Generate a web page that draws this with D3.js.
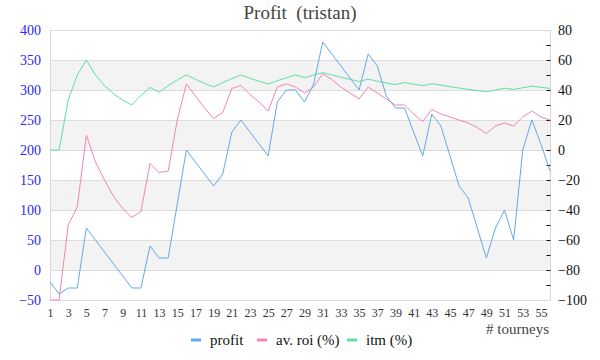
<!DOCTYPE html>
<html>
<head>
<meta charset="utf-8">
<script src="https://cdn.jsdelivr.net/npm/d3@7"></script>
<style>
  html, body { margin: 0; padding: 0; background: #fff; }
  svg { display: block; }
  svg text { font-family: "Liberation Serif", "DejaVu Serif", serif; }
</style>
</head>
<body>
<svg id="chart" width="600" height="360"></svg>
<script>
const tourneys = [1,2,3,4,5,6,7,8,9,10,11,12,13,14,15,16,17,18,19,20,21,22,23,24,25,26,27,28,29,30,31,32,33,34,35,36,37,38,39,40,41,42,43,44,45,46,47,48,49,50,51,52,53,54,55,56];
const profit = [-20,-40,-30,-30,70,50,30,10,-10,-30,-30,40,20,20,110,200,180,160,140,160,230,250,230,210,190,280,300,300,280,310,380,360,340,320,300,360,340,290,270,270,230,190,260,240,190,140,120,70,20,70,100,50,200,250,210,165];
const roi = [-100,-100,-50,-38,10,-8,-20,-31,-39,-45,-41,-9,-15,-14,20,44,36,28,21,25,41,43,37,32,26,42,44,42,38,42,51,47,42,38,34,42,38,34,30,30,24,19,27,24,22,20,18,15,11,16,18,16,22,26,22,20];
const itm = [0,0,33.3,50,60,50,42.9,37.5,33.3,30,36.4,41.7,38.5,42.9,46.7,50,47.1,44.4,42.1,45,47.6,50,47.8,45.8,44,46.2,48.1,50,48.3,50,51.6,50,48.5,47.1,45.7,47.2,45.9,44.7,43.6,45,43.9,42.9,44.2,43.2,42.2,41.3,40.4,39.6,38.8,40,41.2,40.4,41.5,42.6,41.8,41.1];

const leftTicks = [-50,0,50,100,150,200,250,300,350,400];
const rightTicks = [-100,-80,-60,-40,-20,0,20,40,60,80];
const rightMinor = [-90,-80,-70,-60,-50,-40,-30,-20,-10,0,10,20,30,40,50,60,70];
const xTicks = [1,3,5,7,9,11,13,15,17,19,21,23,25,27,29,31,33,35,37,39,41,43,45,47,49,51,53,55];
const bands = [[300,350],[200,250],[100,150],[0,50]];

const seriesNames = ["profit", "av. roi (%)", "itm (%)"];
const colors = ["#63a8ef", "#f285b5", "#5fe0a2"];

const L = 50, R = 550, T = 30, B = 300;
const svg = d3.select("#chart");

const x = d3.scaleLinear().domain([1, 56]).range([L, R]);
const yL = d3.scaleLinear().domain([-50, 400]).range([B, T]);
const yR = d3.scaleLinear().domain([-100, 80]).range([B, T]);

// bands
svg.append("g").selectAll("rect").data(bands).join("rect")
  .attr("x", L).attr("width", R - L)
  .attr("y", d => yL(d[1])).attr("height", d => yL(d[0]) - yL(d[1]))
  .attr("fill", "#f3f3f3");

// gridlines
svg.append("g").selectAll("line").data(leftTicks).join("line")
  .attr("x1", L).attr("x2", R)
  .attr("y1", d => Math.round(yL(d)) + 0.5).attr("y2", d => Math.round(yL(d)) + 0.5)
  .attr("stroke", "#dcdcdc").attr("stroke-width", 1);

// frame sides
svg.append("line").attr("x1", L + 0.5).attr("x2", L + 0.5).attr("y1", T).attr("y2", B + 1)
  .attr("stroke", "#d8d8d8");
svg.append("line").attr("x1", R + 0.5).attr("x2", R + 0.5).attr("y1", T).attr("y2", B + 1)
  .attr("stroke", "#d8d8d8");

// left axis
const gL = svg.append("g").attr("transform", `translate(${L},0)`)
  .call(d3.axisLeft(yL).tickValues(leftTicks).tickSize(0).tickPadding(9));
gL.select(".domain").remove();
gL.attr("font-family", null);
gL.selectAll("text").attr("fill", "#2a2af0").attr("font-size", 14);

// right axis labels
const gR = svg.append("g").attr("transform", `translate(${R},0)`)
  .call(d3.axisRight(yR).tickValues(rightTicks).tickSize(0).tickPadding(8));
gR.select(".domain").remove();
gR.attr("font-family", null);
gR.selectAll("text").attr("fill", "#111").attr("font-size", 14);

// right minor ticks (inward)
const gRm = svg.append("g").attr("transform", `translate(${R + 0.5},0)`)
  .call(d3.axisLeft(yR).tickValues(rightMinor).tickSize(4).tickFormat(""));
gRm.select(".domain").remove();
gRm.selectAll("line").attr("stroke", "#111");

// x axis
const gX = svg.append("g").attr("transform", `translate(0,${B})`)
  .call(d3.axisBottom(x).tickValues(xTicks).tickSize(0).tickPadding(8));
gX.select(".domain").remove();
gX.attr("font-family", null);
gX.selectAll("text").attr("fill", "#333").attr("font-size", 12);

// lines
const lineL = d3.line().x((d, i) => x(tourneys[i])).y(d => yL(d));
const lineR = d3.line().x((d, i) => x(tourneys[i])).y(d => yR(d));
const plot = svg.append("g");
plot.append("path").attr("d", lineR(itm)).attr("fill", "none").attr("stroke", colors[2]).attr("stroke-width", 1);
plot.append("path").attr("d", lineR(roi)).attr("fill", "none").attr("stroke", colors[1]).attr("stroke-width", 1);
plot.append("path").attr("d", lineL(profit)).attr("fill", "none").attr("stroke", colors[0]).attr("stroke-width", 1);

// title
svg.append("text").attr("x", 300).attr("y", 19).attr("text-anchor", "middle")
  .attr("font-size", 19).attr("fill", "#444")
  .style("white-space", "pre")
  .text("Profit  (tristan)");

// x axis title
svg.append("text").attr("x", 549).attr("y", 334).attr("text-anchor", "end")
  .attr("font-size", 15).attr("fill", "#444")
  .text("# tourneys");

// legend
const legendX = [191, 257, 347];
const lg = svg.append("g");
seriesNames.forEach((n, i) => {
  lg.append("line").attr("x1", legendX[i]).attr("x2", legendX[i] + 10)
    .attr("y1", 340).attr("y2", 340).attr("stroke", colors[i]).attr("stroke-width", 3);
  lg.append("text").attr("x", legendX[i] + 19).attr("y", 345)
    .attr("font-size", 15).attr("fill", "#111").text(n);
});
</script>
</body>
</html>
